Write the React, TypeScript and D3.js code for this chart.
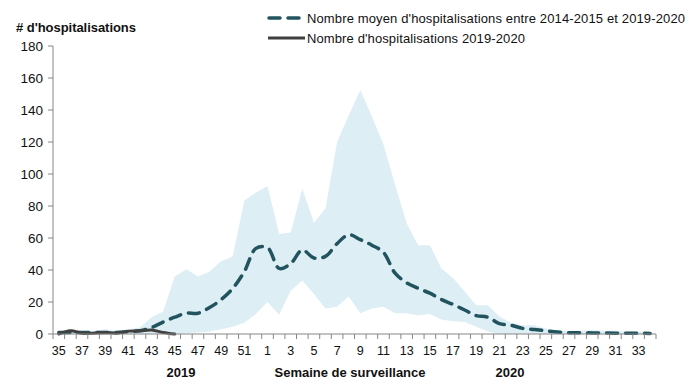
import React from 'react'
import * as d3 from 'd3'

// semaines 35-52 (2019) puis 1-34 (2020)
const weeks = [
	35, 36, 37, 38, 39, 40, 41, 42, 43, 44, 45, 46, 47, 48, 49, 50, 51, 52,
	1, 2, 3, 4, 5, 6, 7, 8, 9, 10, 11, 12, 13, 14, 15, 16, 17, 18, 19, 20,
	21, 22, 23, 24, 25, 26, 27, 28, 29, 30, 31, 32, 33, 34,
]

const meanValues = [
	1, 1, 1, 1, 1, 1, 1.5, 2, 4, 7.5, 10.5, 13, 13, 16.5, 21.5, 28.5, 39, 53.5,
	54, 41, 44, 52.5, 47.5, 48.5, 56.5, 62, 59, 55.5, 51, 38, 32, 28.5, 25.5, 21.5, 18.5, 15, 11.5, 10.5,
	6.5, 5.5, 3.5, 2.8, 2, 1.2, 0.8, 0.7, 0.7, 0.6, 0.5, 0.5, 0.5, 0.3,
]

const maxValues = [
	1, 3, 2, 2, 3, 2, 3, 4, 10.5, 14, 36, 40.5, 36, 39, 45.5, 48.5, 83.5, 88.5,
	92.5, 62.5, 63.5, 91, 69.5, 78.5, 120, 136.5, 152.5, 136, 118.5, 93.5, 69, 55.5, 55.5, 41, 35, 26.5, 18, 18,
	11, 7, 5.5, 5.5, 3.5, 2, 2, 2, 2.5, 2, 2, 1.5, 1.5, 1,
]

const minValues = [
	0, 0, 0, 0, 0, 0, 0, 0, 0, 0, 0, 0.5, 1, 1.5, 3, 4.5, 7, 12.5,
	20, 12, 27, 33.5, 25, 16, 17, 23.5, 13, 16, 17, 13, 13, 11.5, 12.5, 9, 8, 7.5, 4.5, 1.5,
	0, 0, 0, 0, 0, 0, 0, 0, 0, 0, 0, 0, 0, 0,
]

// saison en cours, disponible jusqu'à la semaine 45
const currentValues = [0, 2, 0.5, 0.5, 1, 0.5, 1.8, 2, 2.5, 1, 0]

const yTicks = [0, 20, 40, 60, 80, 100, 120, 140, 160, 180]

const FONT = 'Liberation Sans, Arial, sans-serif'
const DASH_COLOR = '#22545f'
const SOLID_COLOR = '#404040'
const BAND_COLOR = '#deeef5'
const AXIS_COLOR = '#868686'

const App = () => {
	const width = 694
	const height = 392
	const left = 53
	const right = 656
	const top = 46
	const bottom = 334

	const idx = weeks.map((_, i) => i)
	const x = d3.scaleBand<number>().domain(idx).range([left, right])
	const cx = (i: number) => (x(i) as number) + x.bandwidth() / 2
	const y = d3.scaleLinear().domain([0, 180]).range([bottom, top])

	const band = d3
		.area<number>()
		.x(i => cx(i))
		.y0(i => y(minValues[i]))
		.y1(i => y(maxValues[i]))

	const meanLine = d3
		.line<number>()
		.x(i => cx(i))
		.y(i => y(meanValues[i]))
		.curve(d3.curveCatmullRom.alpha(0.5))

	const currentLine = d3
		.line<number>()
		.x(i => cx(i))
		.y(i => y(currentValues[i]))
		.curve(d3.curveCatmullRom.alpha(0.5))

	const bounds = idx.map(i => x(i) as number).concat([right])

	return (
		<svg
			width={width}
			height={height}
			style={{ position: 'absolute', left: 0, top: 0, background: '#fff' }}
			fontFamily={FONT}
		>
			<path d={band(idx) || ''} fill={BAND_COLOR} />
			<path
				d={meanLine(idx) || ''}
				fill='none'
				stroke={DASH_COLOR}
				strokeWidth={3.5}
				strokeDasharray='11 8'
				strokeLinecap='round'
			/>
			<path
				d={currentLine(currentValues.map((_, i) => i)) || ''}
				fill='none'
				stroke={SOLID_COLOR}
				strokeWidth={3}
				strokeLinecap='round'
			/>

			{/* axe y */}
			<line x1={left} x2={left} y1={top} y2={bottom} stroke={AXIS_COLOR} />
			{yTicks.map(t => (
				<g key={t}>
					<line x1={left - 5} x2={left} y1={y(t)} y2={y(t)} stroke={AXIS_COLOR} />
					<text x={43} y={y(t) + 4.5} textAnchor='end' fontSize={13.5} fill='#111'>
						{t}
					</text>
				</g>
			))}
			<text x={16} y={32} fontSize={13} fontWeight='bold' fill='#111' textLength={120}>
				# d'hospitalisations
			</text>

			{/* axe x */}
			<line x1={left} x2={right} y1={bottom} y2={bottom} stroke={AXIS_COLOR} />
			{bounds.map((b, k) => (
				<line key={k} x1={b} x2={b} y1={bottom} y2={bottom + 5} stroke={AXIS_COLOR} />
			))}
			{idx
				.filter(i => i % 2 === 0)
				.map(i => (
					<text key={i} x={cx(i)} y={355} textAnchor='middle' fontSize={12.5} fill='#111'>
						{weeks[i]}
					</text>
				))}
			<text x={181} y={377} textAnchor='middle' fontSize={13} fontWeight='bold' fill='#111'>
				2019
			</text>
			<text x={350} y={377} textAnchor='middle' fontSize={13} fontWeight='bold' fill='#111'>
				Semaine de surveillance
			</text>
			<text x={510} y={377} textAnchor='middle' fontSize={13} fontWeight='bold' fill='#111'>
				2020
			</text>

			{/* légende */}
			<line
				x1={269}
				x2={300}
				y1={18}
				y2={18}
				stroke={DASH_COLOR}
				strokeWidth={3.5}
				strokeDasharray='11 8'
				strokeLinecap='round'
			/>
			<text x={307} y={23} fontSize={13} fill='#111' textLength={378}>
				Nombre moyen d'hospitalisations entre 2014-2015 et 2019-2020
			</text>
			<line x1={268} x2={305} y1={38} y2={38} stroke={SOLID_COLOR} strokeWidth={3} />
			<text x={307} y={43} fontSize={13} fill='#111' textLength={218}>
				Nombre d'hospitalisations 2019-2020
			</text>
		</svg>
	)
}

export default App
